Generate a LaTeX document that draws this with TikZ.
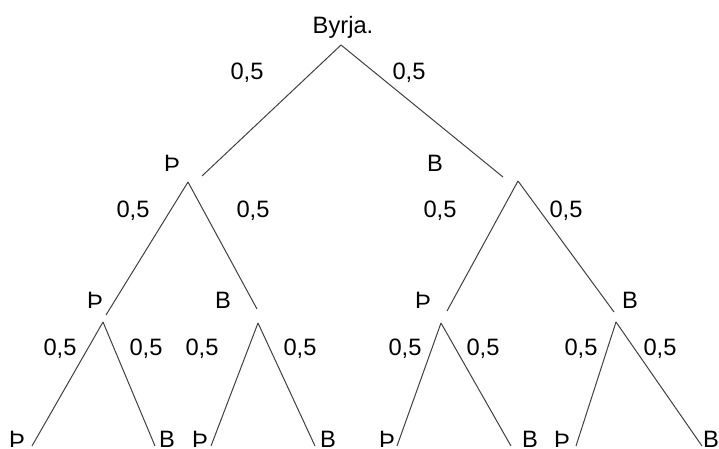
\documentclass[tikz,border=0pt]{standalone}
\usepackage{fontspec}
\setmainfont{Liberation Sans}
\begin{document}
\begin{tikzpicture}[x=0.5pt,y=-0.5pt]
        \useasboundingbox (0,0) rectangle (719,449);

        % texts
        \begin{scope}[every node/.style={anchor=base, inner sep=0pt, font=\fontsize{11.85}{14}\selectfont}]
          \node (byrja) at (343,34)  {Byrja.};
          \node (pa)    at (247,80)  {0,5};
          \node (pb)    at (409,80)  {0,5};
          \node (th)    at (172,172) {Þ};
          \node (b)     at (435,172) {B};
          \node (pth1)  at (133,218) {0,5};
          \node (pth2)  at (253,218) {0,5};
          \node (pb1)   at (440,218) {0,5};
          \node (pb2)   at (566,218) {0,5};
          \node (thth)  at (95,308)  {Þ};
          \node (thb)   at (223,308) {B};
          \node (bth)   at (423,308) {Þ};
          \node (bb)    at (630,308) {B};
          \node (q1)    at (60,356)  {0,5};
          \node (q2)    at (146,356) {0,5};
          \node (q3)    at (202,356) {0,5};
          \node (q4)    at (300,356) {0,5};
          \node (q5)    at (405,356) {0,5};
          \node (q6)    at (483,356) {0,5};
          \node (q7)    at (581,356) {0,5};
          \node (q8)    at (660,356) {0,5};
          \node (l1)    at (17,447)  {Þ};
          \node (l2)    at (167,447) {B};
          \node (l3)    at (200,447) {Þ};
          \node (l4)    at (328,447) {B};
          \node (l5)    at (387,447) {Þ};
          \node (l6)    at (530,447) {B};
          \node (l7)    at (562,447) {Þ};
          \node (l8)    at (711,447) {B};
        \end{scope}

        % branch ends
        \coordinate (top)   at (341,45);
        \coordinate (th-e)  at (202,176);
        \coordinate (b-e)   at (503,177);
        \coordinate (th-s)  at (188,182);
        \coordinate (b-s)   at (518,181);
        \coordinate (thth-e) at (106,315);
        \coordinate (thb-e)  at (257,309);
        \coordinate (bth-e)  at (447,311);
        \coordinate (bb-e)   at (614,312);
        \coordinate (thth-s) at (103,322);
        \coordinate (thb-s)  at (258,323);
        \coordinate (bth-s)  at (441,323);
        \coordinate (bb-s)   at (616,322);
        \coordinate (e1) at (32,446);
        \coordinate (e2) at (155,446);
        \coordinate (e3) at (211,446);
        \coordinate (e4) at (315,446);
        \coordinate (e5) at (397,446);
        \coordinate (e6) at (511,446);
        \coordinate (e7) at (576,446);
        \coordinate (e8) at (702,446);

        \begin{scope}[every edge/.style={draw=black!75, line width=0.5pt}]
          \path (top) edge (th-e);
          \path (top) edge (b-e);
          \path (th-s) edge (thth-e);
          \path (th-s) edge (thb-e);
          \path (b-s) edge (bth-e);
          \path (b-s) edge (bb-e);
          \path (thth-s) edge (e1);
          \path (thth-s) edge (e2);
          \path (thb-s) edge (e3);
          \path (thb-s) edge (e4);
          \path (bth-s) edge (e5);
          \path (bth-s) edge (e6);
          \path (bb-s) edge (e7);
          \path (bb-s) edge (e8);
        \end{scope}

      \end{tikzpicture}
\end{document}
